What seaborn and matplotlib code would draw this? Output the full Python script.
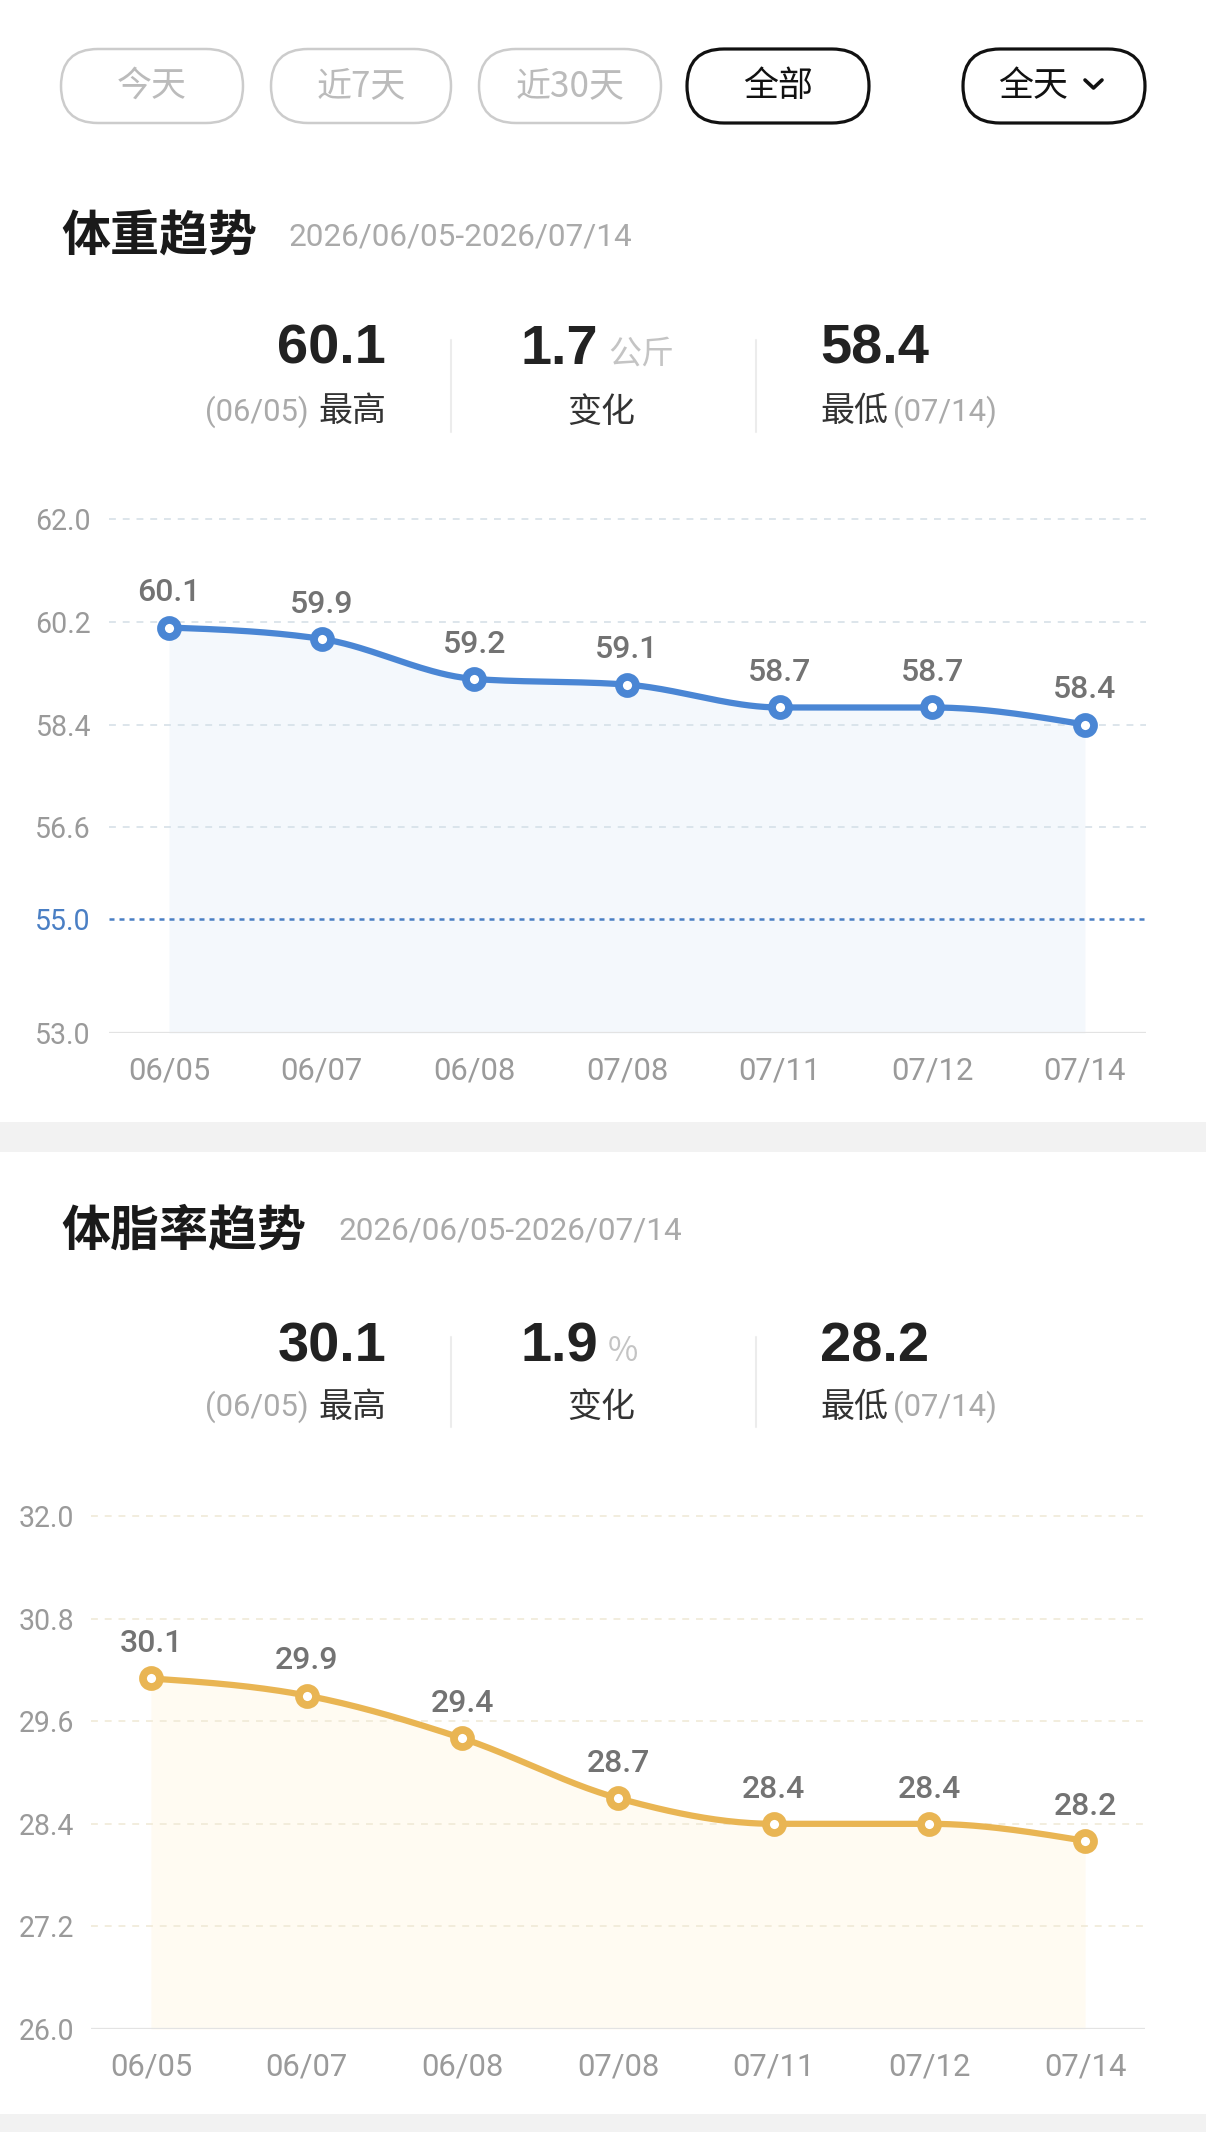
import numpy as np
import matplotlib
matplotlib.use("Agg")
import matplotlib.pyplot as plt
from matplotlib.patches import FancyBboxPatch, Rectangle
import seaborn as sns

# ---------------- data ----------------
dates = ["06/05", "06/07", "06/08", "07/08", "07/11", "07/12", "07/14"]
weight = [60.1, 59.9, 59.2, 59.1, 58.7, 58.7, 58.4]
bodyfat = [30.1, 29.9, 29.4, 28.7, 28.4, 28.4, 28.2]
weight_ticks = [53.0, 55.0, 56.6, 58.4, 60.2, 62.0]
fat_ticks = [26.0, 27.2, 28.4, 29.6, 30.8, 32.0]
weight_target = 55.0
tabs = ["今天", "近7天", "近30天", "全部"]
range_label = "全天"
period = "2026/06/05-2026/07/14"
titles = ["体重趋势", "体脂率趋势"]
weight_summary = ["60.1", "(06/05)", "1.7", "公斤", "58.4", "(07/14)"]
fat_summary = ["30.1", "(06/05)", "1.9", "%", "28.2", "(07/14)"]
summary_words = ["最高", "变化", "最低"]

# ---------------- setup ----------------
sns.set_theme(style="white")
CJK = ["Noto Sans CJK SC", "DejaVu Sans"]
NUM = ["Roboto", "DejaVu Sans"]
BOLDNUM = ["Liberation Sans", "DejaVu Sans"]
plt.rcParams["font.family"] = CJK

W, H = 1206, 2132
PT = 0.72  # px -> pt at dpi 100
fig = plt.figure(figsize=(W / 100, H / 100), dpi=100, facecolor="white")

bg = fig.add_axes([0, 0, 1, 1], zorder=0)
bg.set_xlim(0, W)
bg.set_ylim(H, 0)
bg.axis("off")

# separator bands
bg.add_patch(Rectangle((0, 1122), W, 30, color="#f2f2f2", lw=0))
bg.add_patch(Rectangle((0, 2114), W, 18, color="#f2f2f2", lw=0))

# ---------------- tab buttons ----------------
btn_x = [(61, 243), (271, 451), (479, 661), (687, 869)]
for i, (lbl, (x0, x1)) in enumerate(zip(tabs, btn_x)):
    active = i == 3
    ec = "#111111" if active else "#cccccc"
    bg.add_patch(FancyBboxPatch((x0, 49), x1 - x0, 74,
                                boxstyle="round,pad=0,rounding_size=37",
                                fc="white", ec=ec, lw=(2.3 if active else 1.8)))
    bg.text((x0 + x1) / 2, 86, lbl, ha="center", va="center",
            fontsize=35 * PT, color=("#111111" if active else "#bbbbbb"),
            family=CJK)
bg.add_patch(FancyBboxPatch((963, 49), 182, 74,
                            boxstyle="round,pad=0,rounding_size=37",
                            fc="white", ec="#111111", lw=2.3))
bg.text(1033, 86, range_label, ha="center", va="center",
        fontsize=35 * PT, color="#111111", family=CJK)
bg.plot([1085, 1093.5, 1102], [80, 88, 80], color="#111111", lw=2.6,
        solid_capstyle="round", solid_joinstyle="round")


# ---------------- headers & summaries ----------------
def header(ty, title, date_x):
    bg.text(61, ty, title, ha="left", va="center", fontsize=49 * PT,
            fontweight="bold", color="#1a1a1a", family=CJK)
    bg.text(date_x, ty, period, ha="left", va="center", fontsize=31.5 * PT,
            color="#aaaaaa", family=NUM)


def summary(base_y, sub_y, vals):
    big = dict(fontsize=56 * PT, fontweight="bold", color="#222222",
               family=BOLDNUM, va="baseline")
    word = dict(fontsize=34 * PT, color="#333333", family=CJK, va="center")
    grey = dict(fontsize=31 * PT, color="#aaaaaa", family=NUM, va="center")
    # highest
    bg.text(386, base_y, vals[0], ha="right", **big)
    bg.text(386, sub_y, summary_words[0], ha="right", **word)
    bg.text(309, sub_y, vals[1], ha="right", **grey)
    # change
    bg.text(598, base_y, vals[2], ha="right", **big)
    bg.text(608, base_y, vals[3], ha="left", va="baseline",
            fontsize=33 * PT, color="#c4c4c4", family=CJK)
    bg.text(601, sub_y, summary_words[1], ha="center", **word)
    # lowest
    bg.text(820, base_y, vals[4], ha="left", **big)
    bg.text(820, sub_y, summary_words[2], ha="left", **word)
    bg.text(893, sub_y, vals[5], ha="left", **grey)
    # dividers
    top, bot = base_y - 24, sub_y + 20
    for dx in (451, 756):
        bg.plot([dx, dx], [top, bot], color="#ececec", lw=1.5)


header(237, titles[0], 288)
summary(364, 412, weight_summary)
header(1231, titles[1], 339)
summary(1361, 1407, fat_summary)


# ---------------- chart helpers ----------------
def monotone_curve(vals, steps=40):
    y = np.asarray(vals, float)
    n = len(y)
    d = np.diff(y)
    m = np.zeros(n)
    for i in range(1, n - 1):
        s0, s1 = d[i - 1], d[i]
        p = (s0 + s1) / 2
        m[i] = (np.sign(s0) + np.sign(s1)) * min(abs(s0), abs(s1), 0.5 * abs(p))
    m[0] = (3 * d[0] - m[1]) / 2
    m[-1] = (3 * d[-1] - m[-2]) / 2
    xs, ys = [], []
    for i in range(n - 1):
        t = np.linspace(0, 1, steps, endpoint=(i == n - 2))
        h00 = 2 * t**3 - 3 * t**2 + 1
        h10 = t**3 - 2 * t**2 + t
        h01 = -2 * t**3 + 3 * t**2
        h11 = t**3 - t**2
        ys.append(h00 * y[i] + h10 * m[i] + h01 * y[i + 1] + h11 * m[i + 1])
        xs.append(i + t)
    return np.concatenate(xs), np.concatenate(ys)


def px_rect(left, right, top, bottom):
    return [left / W, 1 - bottom / H, (right - left) / W, (bottom - top) / H]


def draw_chart(rect, values, ticks, ylim, xlim, color, fill, grid_color,
               label_pad, target=None, target_color=None):
    ax = fig.add_axes(rect, zorder=2)
    ax.patch.set_alpha(0)
    n = len(values)
    xs, ys = monotone_curve(values)
    ax.fill_between(xs, ys, ylim[0], color=fill, lw=0, zorder=1)
    for t in ticks[1:]:
        if target is not None and abs(t - target) < 1e-9:
            ax.axhline(t, color=target_color, lw=1.8, ls=(0, (2.0, 2.0)), zorder=2)
        else:
            ax.axhline(t, color=grid_color, lw=1.1, ls=(0, (4.5, 4.5)), zorder=2)
    ax.axhline(ticks[0], color="#e3e3e3", lw=1.6, zorder=2)
    sns.lineplot(x=xs, y=ys, ax=ax, color=color, linewidth=4.5, sort=False,
                 estimator=None, zorder=3)
    sns.scatterplot(x=np.arange(n), y=values, ax=ax, s=150, color="white",
                    edgecolor=color, linewidth=5.6, zorder=5)
    for i, v in enumerate(values):
        ax.annotate(f"{v:.1f}", (i, v), xytext=(0, 25),
                    textcoords="offset points", ha="center", va="center",
                    fontsize=32 * PT, color="#737373", family=NUM,
                    fontweight="medium", zorder=6)
    ax.set_xlim(*xlim)
    ax.set_ylim(*ylim)
    ax.set_xticks(range(n), labels=dates)
    ax.set_yticks(ticks, labels=[f"{t:.1f}" for t in ticks])
    ax.tick_params(axis="x", length=0, pad=17, labelsize=31 * PT,
                   labelcolor="#9a9a9a")
    ax.tick_params(axis="y", length=0, pad=label_pad, labelsize=28.5 * PT,
                   labelcolor="#9a9a9a")
    for lab in ax.get_xticklabels() + ax.get_yticklabels():
        lab.set_fontfamily(NUM)
    if target is not None:
        for t, lab in zip(ticks, ax.get_yticklabels()):
            if abs(t - target) < 1e-9:
                lab.set_color(target_color)
    for s in ax.spines.values():
        s.set_visible(False)
    ax.grid(False)
    ax.set_xlabel("")
    ax.set_ylabel("")
    return ax


# weight chart: 62.0 at y=519, 53.0 at y=1033
w_ppu = (1033 - 519) / 9.0
w_top = 519 - 0.6 * w_ppu
draw_chart(px_rect(109, 1146, w_top, 1033), weight, weight_ticks,
           (53.0, 62.6), (-0.393, 6.4), "#4a86d4", "#f4f8fc", "#d3dee6",
           13, target=weight_target, target_color="#4a7fc4")

# body-fat chart: 32.0 at y=1516, 26.0 at y=2029
f_ppu = (2029 - 1516) / 6.0
f_top = 1516 - 0.4 * f_ppu
draw_chart(px_rect(91, 1145, f_top, 2029), bodyfat, fat_ticks,
           (26.0, 32.4), (-0.385, 6.385), "#e9b553", "#fffbf2", "#efe8d4", 12)

fig.savefig("out.png", dpi=100, facecolor="white")
